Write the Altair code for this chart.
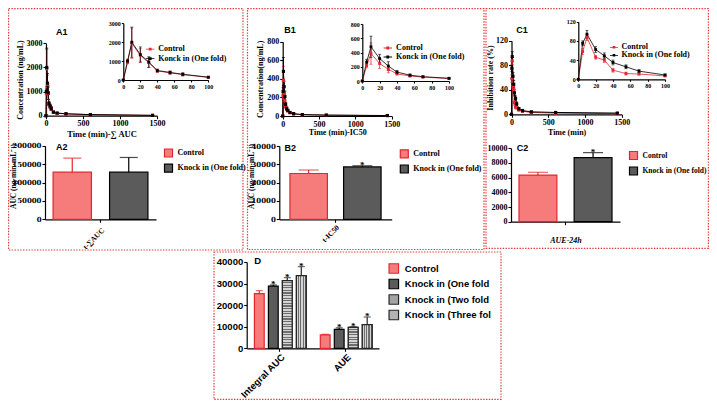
import altair as alt
import pandas as pd

# ---------------- values ----------------
times = [0, 5, 10, 20, 30, 40, 55, 70, 100, 150, 270, 600, 1440]
line_series = ["Control", "Knock in (One fold)"]

A_ctrl = [0, 950, 1950, 1300, 920, 480, 380, 290, 140, 100, 75, 40, 12]
A_ctrl_sd = [0, 90, 800, 380, 250, 70, 70, 70, 35, 20, 15, 10, 5]
A_knock = [0, 1000, 2000, 1350, 950, 500, 400, 300, 150, 110, 80, 45, 15]
A_knock_sd = [0, 100, 800, 400, 280, 80, 80, 80, 40, 20, 15, 10, 5]

B_ctrl = [0, 215, 385, 245, 165, 100, 70, 55, 35, 22, 13, 8, 4]
B_ctrl_sd = [0, 30, 150, 70, 50, 15, 10, 10, 5, 4, 3, 2, 1]
B_knock = [0, 265, 480, 315, 210, 125, 82, 60, 38, 25, 15, 10, 5]
B_knock_sd = [0, 40, 150, 60, 60, 20, 15, 10, 5, 5, 3, 2, 1]

C_ctrl = [0, 58, 87, 46, 40, 19, 12, 11, 7, 5, 3, 2, 1]
C_ctrl_sd = [0, 6, 6, 4, 5, 4, 3, 2, 1, 1, 1, 1, 1]
C_knock = [0, 75, 94, 62, 49, 35, 26, 17, 9, 6, 4, 3, 2]
C_knock_sd = [0, 5, 8, 6, 6, 5, 4, 3, 2, 2, 1, 1, 1]

bar_groups = ["Control", "Knock in (One fold)"]
A2_mean = [128000, 128000]
A2_sd = [38000, 40000]
A2_sig = ["", ""]
B2_mean = [25000, 28600]
B2_sd = [1900, 600]
B2_sig = ["", "*"]
C2_mean = [6350, 8730]
C2_sd = [380, 680]
C2_sig = ["", "*"]

D_series = ["Control", "Knock in (One fold", "Knock in (Two fold", "Knock in (Three fol"]
D_categories = ["Integral AUC", "AUE"]
D_auc_mean = [25300, 28800, 31300, 33600]
D_auc_sd = [1400, 500, 1400, 4200]
D_aue_mean = [6200, 8750, 9700, 11000]
D_aue_sd = [300, 700, 300, 3500]
D_sig = ["", "*", "*", "*"]

A2_xlabel = ["t-∑AUC"]
B2_xlabel = ["t-IC50"]
C2_xlabel = ["AUE-24h"]

# ---------------- layout helpers ----------------
W, H = 701, 392


def X(rx):
    return round(rx - 8, 2)


def Y(ry):
    return round(ry - 8, 2)


RED = "#e3262e"
PINK = "#f67c7c"
CHECK = "#5b5b5b"
HSTRIPE = "#a3a3a3"
VSTRIPE = "#b3b3b3"
BOX = "#e0393b"
SERIF = "Liberation Serif"
DSERIF = "DejaVu Serif"
SANS = "Liberation Sans"
LEG_PATH = "M-1,-0.09H1V0.09H-1Z M-0.33,-0.33H0.33V0.33H-0.33Z"
KONCK = "datum.label == 'Knock in (One fold)' ? 'Konck in (One fold)' : datum.label"


def axis(orient, pos, values=None, font=SERIF, size=8, tick=3, lpad=1, title=None,
         tfont=SERIF, tsize=8, tpad=2, tstyle="normal", labels=True, angle=0,
         align=None, baseline=None, tx=None, ty=None):
    kw = dict(orient=orient,
              offset=(Y(pos) - H) if orient == "bottom" else -X(pos),
              domainColor="black", domainWidth=1.2, ticks=True, tickColor="black",
              tickWidth=1.1, tickSize=tick, labels=labels, labelFont=font,
              labelFontSize=size, labelFontWeight="bold", labelColor="black",
              labelPadding=lpad, labelAngle=angle, labelFlush=False, labelOverlap=False,
              grid=False, title=title, titleFont=tfont, titleFontSize=tsize,
              titleFontWeight="bold", titleFontStyle=tstyle, titleColor="black",
              titlePadding=tpad)
    if values is not None:
        kw["values"] = values
        kw["format"] = "d"
    if align:
        kw["labelAlign"] = align
    if baseline:
        kw["labelBaseline"] = baseline
    if tx is not None:
        kw["titleX"] = tx
        kw["titleY"] = ty
    return alt.Axis(**kw)


def qscale(domain, r0, r1):
    return alt.Scale(domain=domain, range=[r0, r1], nice=False, zero=False)


def stripes(n, vertical, dark="#6e6e6e", light="#d4d4d4"):
    stops = []
    for i in range(n):
        a, m, b = i / n, (i + 0.5) / n, (i + 1) / n
        stops += [alt.GradientStop(offset=a, color=light), alt.GradientStop(offset=m, color=light),
                  alt.GradientStop(offset=m, color=dark), alt.GradientStop(offset=b, color=dark)]
    if vertical:
        return alt.LinearGradient(gradient="linear", stops=stops, x1=0, x2=1, y1=0, y2=0)
    return alt.LinearGradient(gradient="linear", stops=stops, x1=0, x2=0, y1=0, y2=1)


def long_frame(ctrl, ctrl_sd, knock, knock_sd, tmax=None):
    rows = []
    for name, vals, sds in ((line_series[0], ctrl, ctrl_sd), (line_series[1], knock, knock_sd)):
        for t, v, s in zip(times, vals, sds):
            if tmax is None or t <= tmax:
                rows.append(dict(t=t, v=v, lo=v - s, hi=v + s, series=name))
    return pd.DataFrame(rows)


def line_plot(df, xs, ys, ax_x, ax_y, lw, msize, cap, legend=None):
    cscale = alt.Scale(domain=line_series, range=[RED, "black"])
    xa = alt.X("t:Q", scale=xs, axis=ax_x)
    ya = alt.Y("v:Q", scale=ys, axis=ax_y)
    xn = alt.X("t:Q", scale=xs, axis=None)
    yn = alt.Y("v:Q", scale=ys, axis=None)
    base = alt.Chart(df)
    line = base.mark_line(strokeWidth=lw).encode(
        x=xa, y=ya, color=alt.Color("series:N", scale=cscale, legend=None))
    err = base.mark_errorbar(ticks=True, size=cap, thickness=lw).encode(
        x=xn, y=alt.Y("lo:Q", scale=ys, axis=None), y2=alt.Y2("hi:Q"),
        color=alt.Color("series:N", scale=cscale, legend=None))
    pts = base.mark_point(filled=True, size=msize, opacity=1, shape="square").encode(
        x=xn, y=yn, color=alt.Color("series:N", scale=cscale, legend=legend))
    return [line, err, pts]


def bar_plot(groups, means, sds, sigs, xr, pin, pout, ys, ax_y, fills, strokes, cap,
             legend=None, star_size=9, overlays=()):
    df = pd.DataFrame(dict(series=groups, mean=means,
                           hi=[m + s for m, s in zip(means, sds)], sig=sigs))
    xs = alt.Scale(type="band", domain=groups, range=[X(xr[0]), X(xr[1])],
                   paddingInner=pin, paddingOuter=pout)
    x = alt.X("series:N", scale=xs, axis=None)
    base = alt.Chart(df)
    col = alt.Color("series:N", scale=alt.Scale(domain=groups, range=strokes), legend=None)
    out = [base.mark_bar(strokeWidth=1.2).encode(
        x=x, y=alt.Y("mean:Q", scale=ys, axis=ax_y, stack=None),
        fill=alt.Fill("series:N", scale=alt.Scale(domain=groups, range=fills), legend=legend),
        stroke=alt.Stroke("series:N", scale=alt.Scale(domain=groups, range=strokes), legend=legend))]
    for name, grad, stroke in overlays:
        out.append(base.transform_filter(alt.datum.series == name).mark_bar(
            fill=grad, stroke=stroke, strokeWidth=1.2).encode(
            x=x, y=alt.Y("mean:Q", scale=ys, axis=None, stack=None)))
    out.append(base.mark_rule(strokeWidth=1.2).encode(
        x=x, y=alt.Y("mean:Q", scale=ys, axis=None), y2=alt.Y2("hi:Q"), color=col))
    out.append(base.mark_tick(thickness=1.2, size=cap).encode(
        x=x, y=alt.Y("hi:Q", scale=ys, axis=None), color=col))
    out.append(base.mark_text(font=SERIF, fontSize=star_size, fontWeight="bold", baseline="middle",
                              dy=-1, color="black").encode(
        x=x, y=alt.Y("hi:Q", scale=ys, axis=None), text="sig:N"))
    return out


def cat_axis(cats, xr, ax):
    df = pd.DataFrame(dict(cat=cats))
    return alt.Chart(df).mark_point(opacity=0).encode(
        x=alt.X("cat:N", scale=alt.Scale(type="band", domain=cats, range=[X(xr[0]), X(xr[1])],
                                           paddingInner=0, paddingOuter=0), axis=ax))


def line_legend(lx, ly, size=72, offset=3.5, rowpad=0.5, expr=None):
    kw = dict(orient="none", legendX=X(lx), legendY=Y(ly), title=None, symbolType=LEG_PATH,
              symbolSize=size, symbolStrokeWidth=0, labelFont=SERIF, labelFontSize=8,
              labelFontWeight="bold", labelColor="black", labelOffset=offset,
              rowPadding=rowpad, padding=0)
    if expr:
        kw["labelExpr"] = expr
    return alt.Legend(**kw)


def bar_legend(lx, ly, size=64, offset=4, rowpad=1.2, font=SERIF, fsize=8):
    return alt.Legend(orient="none", legendX=X(lx), legendY=Y(ly), title=None,
                      symbolType="square", symbolSize=size, symbolStrokeWidth=1.2,
                      labelFont=font, labelFontSize=fsize, labelFontWeight="bold",
                      labelColor="black", labelOffset=offset, rowPadding=rowpad, padding=0,
                      labelLimit=300)


def clampx(v):
    return min(max(v, 0.6), W - 0.6)


def clampy(v):
    return min(max(v, 0.6), H - 0.6)


def box(x0, y0, x1, y1):
    return alt.Chart().mark_rect(fillOpacity=0, stroke=BOX, strokeWidth=1.2,
                                 strokeDash=[1.4, 1.4]).encode(
        x=alt.value(clampx(X(x0))), x2=alt.value(clampx(X(x1))),
        y=alt.value(clampy(Y(y0))), y2=alt.value(clampy(Y(y1))))


def label(txt, rx, ry, size=9):
    return alt.Chart().mark_text(font=SANS, fontSize=size, fontWeight="bold", align="center",
                                 baseline="middle", color="black").encode(
        x=alt.value(X(rx)), y=alt.value(Y(ry)), text=alt.value(txt))


layers = []

# ---------------- panel A ----------------
dfA = long_frame(A_ctrl, A_ctrl_sd, A_knock, A_knock_sd)
dfA_in = long_frame(A_ctrl, A_ctrl_sd, A_knock, A_knock_sd, tmax=100)
layers += line_plot(dfA, qscale([0, 1500], X(46), X(157)), qscale([0, 3000], Y(115.7), Y(43.3)),
                    axis("bottom", 115.7, [0, 500, 1000, 1500], title="Time (min)-∑ AUC", tpad=1.5, tsize=8.5),
                    axis("left", 46, [0, 1000, 2000, 3000], title="Concentration (ng/mL)", tpad=2),
                    lw=1, msize=10, cap=3)
layers += line_plot(dfA_in, qscale([0, 100], X(123.3), X(208.3)), qscale([0, 3000], Y(80), Y(23.3)),
                    axis("bottom", 80, [0, 20, 40, 60, 80, 100], size=6, tick=2),
                    axis("left", 123.3, [0, 1000, 2000, 3000], size=6, tick=2),
                    lw=0.8, msize=8, cap=3, legend=line_legend(145.7, 44.7, expr=KONCK))
ysA2 = qscale([0, 200000], Y(219.3), Y(145.7))
layers.append(cat_axis(A2_xlabel, (45, 156),
                       axis("bottom", 219.3, font=SERIF, size=7.5, angle=315, align="right",
                            baseline="top", lpad=4)))
layers += bar_plot(bar_groups, A2_mean, A2_sd, A2_sig, (45, 156), 0.321, 0.143, ysA2,
                   axis("left", 45, [0, 50000, 100000, 150000, 200000], font=DSERIF, size=7,
                        title="AUC (ng·min·mL⁻¹)", tsize=7.5, tx=17 - 45, ty=Y(176)),
                   [PINK, CHECK], [RED, "black"], cap=18, legend=bar_legend(163.5, 148))

# ---------------- panel B ----------------
dfB = long_frame(B_ctrl, B_ctrl_sd, B_knock, B_knock_sd)
dfB_in = long_frame(B_ctrl, B_ctrl_sd, B_knock, B_knock_sd, tmax=100)
layers += line_plot(dfB, qscale([0, 1500], X(282.7), X(391.7)), qscale([0, 800], Y(116), Y(41.7)),
                    axis("bottom", 116, [0, 500, 1000, 1500], title="Time (min)-IC50", tpad=0),
                    axis("left", 282.7, [0, 200, 400, 600, 800], title="Concentration(ng/mL)", tpad=2),
                    lw=1, msize=10, cap=3)
layers += line_plot(dfB_in, qscale([0, 100], X(362.3), X(449)), qscale([0, 800], Y(81), Y(24)),
                    axis("bottom", 81, [0, 20, 40, 60, 80, 100], size=6, tick=2),
                    axis("left", 362.3, [0, 200, 400, 600, 800], size=6, tick=2),
                    lw=0.8, msize=8, cap=3, legend=line_legend(383.3, 43.5, offset=3.8, rowpad=0, expr=KONCK))
ysB2 = qscale([0, 40000], Y(219.3), Y(146))
layers.append(cat_axis(B2_xlabel, (279.3, 391.7),
                       axis("bottom", 219.3, font=SERIF, size=7.5, angle=315, align="right",
                            baseline="top", lpad=1)))
layers += bar_plot(bar_groups, B2_mean, B2_sd, B2_sig, (279.3, 391.7), 0.302, 0.198, ysB2,
                   axis("left", 279.3, [0, 10000, 20000, 30000, 40000], font=DSERIF, size=7,
                        title="AUC (ng·min·mL⁻¹)", tsize=7.5, tx=256 - 279.3, ty=Y(176)),
                   [PINK, CHECK], [RED, "black"], cap=20, legend=bar_legend(399.3, 148.8))

# ---------------- panel C ----------------
dfC = long_frame(C_ctrl, C_ctrl_sd, C_knock, C_knock_sd)
dfC_in = long_frame(C_ctrl, C_ctrl_sd, C_knock, C_knock_sd, tmax=100)
layers += line_plot(dfC, qscale([0, 1500], X(511.5), X(621.7)), qscale([0, 120], Y(114.3), Y(40.7)),
                    axis("bottom", 114.3, [0, 500, 1000, 1500], title="Time (min)", tpad=2),
                    axis("left", 511.5, [0, 40, 80, 120], title="Inhibition rate (%)", tpad=1),
                    lw=1, msize=10, cap=3)
layers += line_plot(dfC_in, qscale([0, 100], X(578.3), X(665)), qscale([0, 120], Y(79.3), Y(21.7)),
                    axis("bottom", 79.3, [0, 20, 40, 60, 80, 100], size=6, tick=2),
                    axis("left", 578.3, [0, 40, 80, 120], size=6, tick=2),
                    lw=0.8, msize=8, cap=3, legend=line_legend(610, 43.3, size=64, rowpad=0))
ysC2 = qscale([0, 10000], Y(221.7), Y(148.3))
layers.append(cat_axis(C2_xlabel, (511, 620),
                       axis("bottom", 221.7, labels=False, title=C2_xlabel[0], tstyle="italic",
                            tpad=11, tsize=8)))
layers += bar_plot(bar_groups, C2_mean, C2_sd, C2_sig, (511, 620), 0.313, 0.145, ysC2,
                   axis("left", 511, [0, 2000, 4000, 6000, 8000, 10000], font=SERIF, size=8),
                   [PINK, CHECK], [RED, "black"], cap=20,
                   legend=bar_legend(628.5, 150.5, fsize=7.5, rowpad=1.5))

# ---------------- panel D ----------------
D_top, D_bottom = 261.9, 348.3
ysD = qscale([0, 40000], Y(D_bottom), Y(D_top))
D_px = (D_bottom - D_top) / 40000
D_fills = [PINK, CHECK, HSTRIPE, VSTRIPE]
D_strokes = [RED, "black", "#262626", "#262626"]


def d_overlays(means):
    n_h = max(3, round(means[2] * D_px / 2.6))
    return [(D_series[2], stripes(n_h, False), "#262626"),
            (D_series[3], stripes(4, True), "#262626")]


layers.append(cat_axis(D_categories, (246.7, 379),
                       axis("bottom", D_bottom, font=SANS, size=9.5, angle=315, align="right",
                            baseline="top", lpad=0.5)))
layers += bar_plot(D_series, D_auc_mean, D_auc_sd, D_sig, (252.3, 308.3), 0.3, 0.15, ysD,
                   axis("left", 246.7, [0, 10000, 20000, 30000, 40000], font=SANS, size=9.5),
                   D_fills, D_strokes, cap=7,
                   legend=bar_legend(388.3, 263, size=90, offset=5.5, rowpad=0.5, font=SANS, fsize=9.5),
                   overlays=d_overlays(D_auc_mean))
layers += bar_plot(D_series, D_aue_mean, D_aue_sd, D_sig, (318.2, 374.2), 0.3, 0.15, ysD, None,
                   D_fills, D_strokes, cap=7, overlays=d_overlays(D_aue_mean))

# ---------------- frames and panel tags ----------------
layers += [box(4, 4, 243, 250), box(247.5, 2.7, 484, 249.5), box(486, 2.7, 715, 248.3),
           box(214, 252, 501, 403)]
layers += [label("A1", 61.7, 31.7), label("A2", 61.7, 147.3), label("B1", 290, 30.3),
           label("B2", 290.3, 148.3), label("C1", 522, 29.7), label("C2", 522.5, 148.3),
           label("D", 257.7, 260.5, size=9.5)]

chart = alt.layer(*layers).properties(
    width=W, height=H, padding=0, autosize=alt.AutoSizeParams(type="none")
).resolve_scale(
    x="independent", y="independent", color="independent", fill="independent",
    stroke="independent"
).configure_view(strokeWidth=0).configure_axis(grid=False)

chart.save("out.html", embed_options={"renderer": "svg", "actions": False})
